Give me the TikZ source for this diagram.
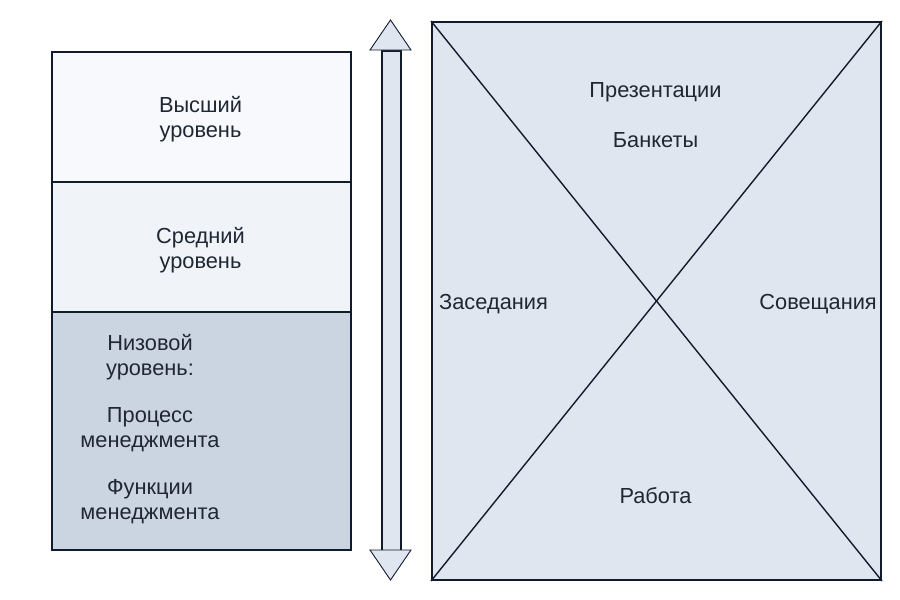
\documentclass[tikz,border=0pt]{standalone}
\usepackage{fontspec}
\setmainfont{Liberation Sans}
\definecolor{ink}{HTML}{111B2C}
\definecolor{txt}{HTML}{1F2733}
\definecolor{fillA}{HTML}{F7F9FC}
\definecolor{fillB}{HTML}{F0F4F9}
\definecolor{fillC}{HTML}{CBD5E1}
\definecolor{fillD}{HTML}{DFE6EF}
\begin{document}
\begin{tikzpicture}[x=1pt,y=-1pt,
  levelbox/.style={draw=ink,line width=2pt,anchor=north west,inner sep=0pt,minimum width=299pt},
  lbl/.style={text=txt,font=\fontsize{21.8}{24.8}\selectfont,align=center,inner sep=0pt},
  diag/.style={draw=ink,line width=1.4pt},
  headshape/.style={draw=ink,line width=0.9pt,fill=fillD,line join=miter}]
\useasboundingbox (0,0) rectangle (900,600);
% left level boxes
\node[levelbox,fill=fillA,minimum height=130pt] (top) at (51,51) {};
\node[levelbox,fill=fillB,minimum height=130pt] (mid) at (51,181) {};
\node[levelbox,fill=fillC,minimum height=238pt] (low) at (51,311) {};
\node[lbl] (toptext) at (200.5,119) {Высший\\уровень};
\node[lbl] (midtext) at (200.5,250) {Средний\\уровень};
\node[lbl] (lowtext) at (150,429) {Низовой\\уровень:\\[22.5pt]Процесс\\менеджмента\\[22.5pt]Функции\\менеджмента};
% double arrow
\node[draw=ink,line width=2pt,fill=fillD,anchor=north west,inner sep=0pt,minimum width=19pt,minimum height=500pt] (shaft) at (381,50) {};
\coordinate (topapex) at (390.5,20);
\coordinate (botapex) at (390.5,580);
\draw[headshape] (topapex) -- (370,50) -- (411,50) -- cycle;
\draw[headshape] (botapex) -- (370,550) -- (411,550) -- cycle;
% right box with cross
\node[draw=ink,line width=2pt,fill=fillD,anchor=north west,inner sep=0pt,minimum width=449pt,minimum height=558pt] (R) at (431,21) {};
\draw[diag] (R.north west) -- (R.south east);
\draw[diag] (R.north east) -- (R.south west);
\node[lbl] (pres) at (655.5,92) {Презентации};
\node[lbl] (bank) at (655.5,140) {Банкеты};
\node[lbl,anchor=west] (zas) at (439,304) {Заседания};
\node[lbl,anchor=east] (sov) at (877,304) {Совещания};
\node[lbl] (rab) at (655.5,496) {Работа};
\end{tikzpicture}
\end{document}
